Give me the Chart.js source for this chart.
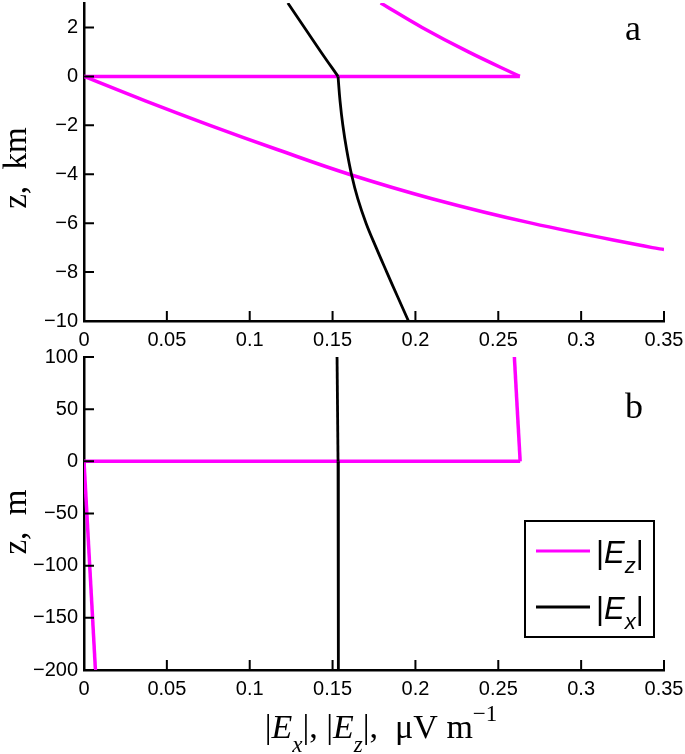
<!DOCTYPE html>
<html>
<head>
<meta charset="utf-8">
<script src="https://cdn.jsdelivr.net/npm/chart.js@4.4.0/dist/chart.umd.min.js"></script>
<style>
html, body { margin: 0; padding: 0; background: #fff; overflow: hidden; }
#wrap { position: relative; width: 685px; height: 754px; }
canvas { position: absolute; left: 0; }
#panelA { top: 0; }
#panelB { top: 340px; }
</style>
</head>
<body>
<div id="wrap">
  <canvas id="panelA" width="685" height="350"></canvas>
  <canvas id="panelB" width="685" height="414"></canvas>
</div>
<script>
// panel a, depth in km (air above z=0, ground below)
const zAirKm    = [3, 2, 1, 0];
const ezAirKm   = [0.179, 0.204, 0.232, 0.263];
const exAirKm   = [0.123, 0.133, 0.143, 0.1533];
const zGrEzKm   = [0, -1, -2, -3, -4, -5, -6, -7, -7.08];
const ezGrKm    = [0, 0.037, 0.076, 0.117, 0.160, 0.210, 0.270, 0.343, 0.35];
const zGrExKm   = [0, -1, -2, -3, -4, -5, -6, -7, -8, -9, -10];
const exGrKm    = [0.1533, 0.1545, 0.1562, 0.1585, 0.1614, 0.1652, 0.1702, 0.1763, 0.1827, 0.1892, 0.1958];

// panel b, depth in m
const zAirM  = [100, 0];
const ezAirM = [0.2597, 0.2632];
const exAirM = [0.1527, 0.1533];
const zGrM   = [0, -200];
const ezGrM  = [0, 0.0069];
const exGrM  = [0.1533, 0.1535];

const xTicks   = [0, 0.05, 0.1, 0.15, 0.2, 0.25, 0.3, 0.35];
const yTicksKm = [-10, -8, -6, -4, -2, 0, 2];
const yTicksM  = [-200, -150, -100, -50, 0, 50, 100];

const MAGENTA = "#ff00ff";
const SANS = '"Liberation Sans", Arial, sans-serif';
const SERIF = '"Liberation Serif", "Times New Roman", serif';

const pts = (xs, zs) => xs.map((v, i) => ({ x: v, y: zs[i] }));
const fmt = v => String(v).replace("-", "\u2212");

// draws a run of text pieces (sub/superscripts, italics)
function drawRich(ctx, parts, x, y, family, align) {
    let w = 0;
    parts.forEach(p => {
        ctx.font = (p.italic ? "italic " : "") + p.size + "px " + family;
        p.w = ctx.measureText(p.t).width;
        w += p.w;
    });
    let cx = align === "center" ? x - w / 2 : x;
    parts.forEach(p => {
        ctx.font = (p.italic ? "italic " : "") + p.size + "px " + family;
        ctx.fillText(p.t, cx, y + (p.dy || 0));
        cx += p.w;
    });
}

const inwardTicks = {
    id: "inwardTicks",
    afterDraw(chart) {
        const { ctx, chartArea, scales } = chart;
        ctx.save();
        ctx.strokeStyle = "#000";
        ctx.lineWidth = 2;
        ctx.beginPath();
        scales.x.ticks.forEach(t => {
            const px = scales.x.getPixelForValue(t.value);
            ctx.moveTo(px, chartArea.bottom);
            ctx.lineTo(px, chartArea.bottom - 10);
        });
        scales.y.ticks.forEach(t => {
            const py = scales.y.getPixelForValue(t.value);
            ctx.moveTo(chartArea.left, py);
            ctx.lineTo(chartArea.left + 10, py);
        });
        ctx.stroke();
        ctx.restore();
    }
};

const notes = {
    id: "notes",
    afterDraw(chart, args, o) {
        const ctx = chart.ctx;
        ctx.save();
        ctx.fillStyle = "#000";
        ctx.textAlign = "left";
        ctx.textBaseline = "alphabetic";

        // panel letter
        ctx.font = "36px " + SERIF;
        ctx.fillText(o.letter, 625, o.letterY);

        // y title
        ctx.save();
        ctx.translate(26, o.yTitleY);
        ctx.rotate(-Math.PI / 2);
        ctx.textAlign = "center";
        ctx.font = "33px " + SERIF;
        ctx.fillText(o.yTitle, 0, 0);
        ctx.restore();

        if (o.legend) {
            const L = o.legend;
            ctx.fillStyle = "#fff";
            ctx.fillRect(L.x, L.y, L.w, L.h);
            ctx.strokeStyle = "#000";
            ctx.lineWidth = 2;
            ctx.strokeRect(L.x, L.y, L.w, L.h);
            const items = chart.data.datasets.filter(ds => ds.legendRank !== undefined)
                .sort((a, b) => a.legendRank - b.legendRank);
            items.forEach((ds, i) => {
                const ly = L.y + 30 + i * 56;
                ctx.strokeStyle = ds.borderColor;
                ctx.lineWidth = 3;
                ctx.beginPath();
                ctx.moveTo(L.x + 11, ly);
                ctx.lineTo(L.x + 65, ly);
                ctx.stroke();
                ctx.fillStyle = "#000";
                drawRich(ctx, [
                    { t: "|", size: 31 },
                    { t: ds.label[0], size: 31, italic: true },
                    { t: ds.label.slice(1), size: 22, italic: true, dy: 10 },
                    { t: "|", size: 31 }
                ], L.x + 71, ly + 12, SANS, "left");
            });
        }

        if (o.xTitleY) {
            ctx.fillStyle = "#000";
            drawRich(ctx, [
                { t: "|", size: 34 },
                { t: "E", size: 34, italic: true },
                { t: "x", size: 23, italic: true, dy: 14 },
                { t: "|, |", size: 34 },
                { t: "E", size: 34, italic: true },
                { t: "z", size: 23, italic: true, dy: 14 },
                { t: "|,  \u03bcV m", size: 34 },
                { t: "\u22121", size: 23, dy: -17 }
            ], 381, o.xTitleY, SERIF, "center");
        }
        ctx.restore();
    }
};

function panelOptions(yMin, yMax, yTicks, padTop, xHeight, noteOpts) {
    const tickFont = { family: SANS, size: 20 };
    return {
        responsive: false,
        animation: false,
        layout: { padding: { top: padTop, right: 21, left: 0, bottom: 0 } },
        plugins: {
            legend: { display: false },
            tooltip: { enabled: false },
            notes: noteOpts
        },
        scales: {
            x: {
                type: "linear",
                min: 0,
                max: 0.35,
                afterBuildTicks: s => { s.ticks = xTicks.map(v => ({ value: v })); },
                afterFit: s => { s.height = xHeight; s.paddingLeft = 0; s.paddingRight = 0; },
                grid: { drawOnChartArea: false, drawTicks: false },
                border: { color: "#000", width: 2.5 },
                ticks: { color: "#000", font: tickFont, padding: 7, maxRotation: 0, autoSkip: false, callback: v => fmt(v) }
            },
            y: {
                type: "linear",
                min: yMin,
                max: yMax,
                afterBuildTicks: s => { s.ticks = yTicks.map(v => ({ value: v })); },
                afterFit: s => { s.width = 84; s.paddingTop = 0; s.paddingBottom = 0; },
                grid: { drawOnChartArea: false, drawTicks: false },
                border: { color: "#000", width: 2.5 },
                ticks: { color: "#000", font: tickFont, padding: 6, autoSkip: false, callback: v => fmt(v) }
            }
        }
    };
}

function lineSet(label, data, color, width, tension, legendRank) {
    return {
        label: label,
        data: data,
        showLine: true,
        borderColor: color,
        backgroundColor: color,
        borderWidth: width,
        pointRadius: 0,
        fill: false,
        tension: tension,
        legendRank: legendRank
    };
}

// black drawn first so it sits on top of magenta
function panelSets(zAir, ezAir, exAir, zGrEz, ezGr, zGrEx, exGr, t) {
    const last = zAir.length - 1;
    return [
        lineSet("Ex", pts(exAir, zAir), "#000", 2.8, t, 1),
        lineSet("Ex", pts(exGr, zGrEx), "#000", 2.8, t),
        lineSet("Ez", pts(ezAir, zAir), MAGENTA, 3.5, t, 0),
        lineSet("Ez", [{ x: ezAir[last], y: zAir[last] }, { x: ezGr[0], y: zGrEz[0] }], MAGENTA, 3.5, 0),
        lineSet("Ez", pts(ezGr, zGrEz), MAGENTA, 3.5, t)
    ];
}

new Chart(document.getElementById("panelA"), {
    type: "scatter",
    data: { datasets: panelSets(zAirKm, ezAirKm, exAirKm, zGrEzKm, ezGrKm, zGrExKm, exGrKm, 0.4) },
    options: panelOptions(-10, 3, yTicksKm, 3, 29, {
        letter: "a", letterY: 40, yTitle: "z,  km", yTitleY: 168
    }),
    plugins: [inwardTicks, notes]
});

new Chart(document.getElementById("panelB"), {
    type: "scatter",
    data: { datasets: panelSets(zAirM, ezAirM, exAirM, zGrM, ezGrM, zGrM, exGrM, 0) },
    options: panelOptions(-200, 100, yTicksM, 17, 84, {
        letter: "b", letterY: 78, yTitle: "z,  m", yTitleY: 182,
        legend: { x: 525, y: 181, w: 129, h: 116 },
        xTitleY: 398
    }),
    plugins: [inwardTicks, notes]
});
</script>
</body>
</html>
